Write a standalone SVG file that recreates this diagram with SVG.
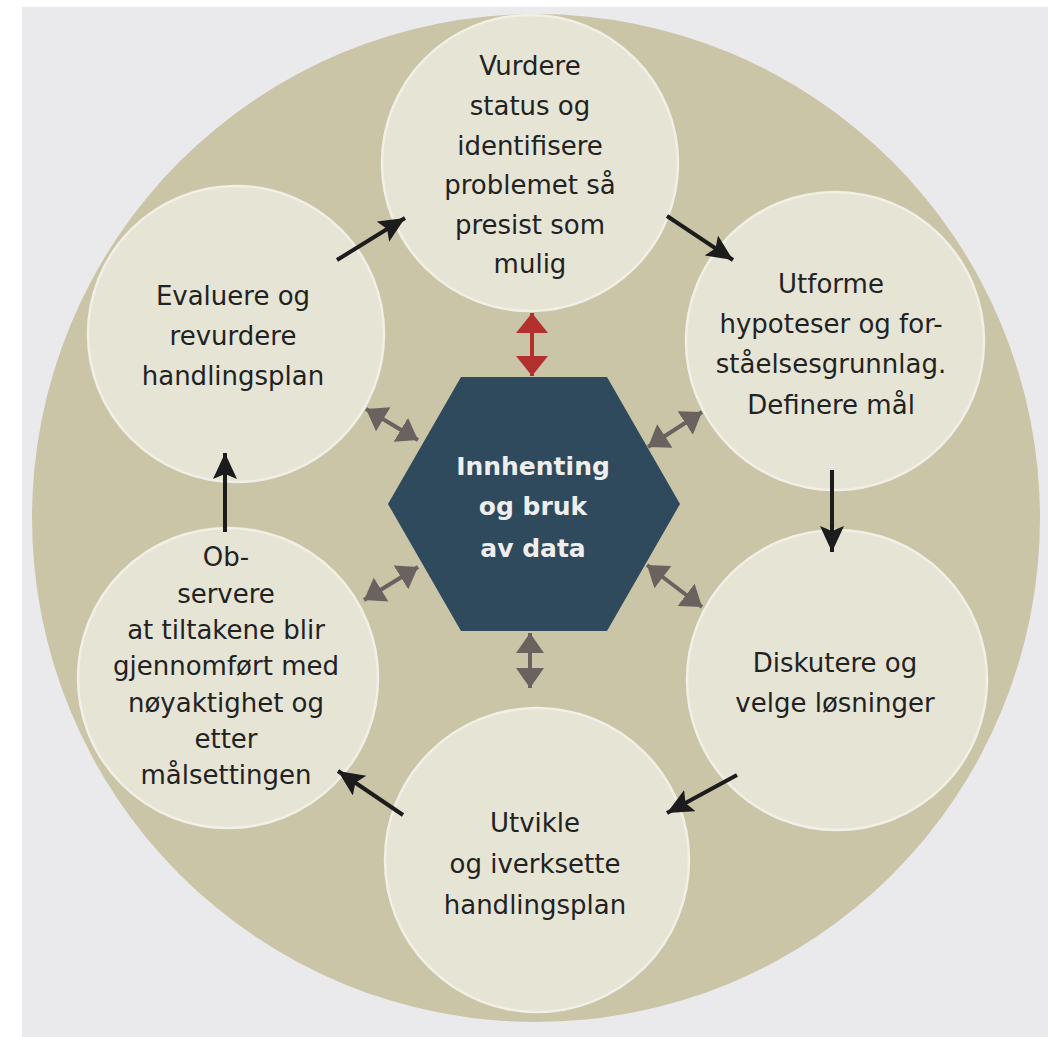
<svg xmlns="http://www.w3.org/2000/svg" width="1048" height="1037" viewBox="0 0 1048 1037">
  <style>
    .node { fill: #e6e4d5; stroke: #f1efe6; stroke-width: 2.5; }
    .lbl { font-family: "DejaVu Sans", "Liberation Sans", sans-serif; font-size: 26px; fill: #222222; text-anchor: middle; }
    .hexlbl { font-family: "DejaVu Sans", "Liberation Sans", sans-serif; font-size: 25px; font-weight: bold; fill: #eeeeee; text-anchor: middle; }
    .flow { stroke: #1c1c1c; stroke-width: 4; fill: none; marker-end: url(#blackHead); }
    .data { stroke: #6a625f; stroke-width: 4; fill: none; marker-start: url(#grayStart); marker-end: url(#grayEnd); }
    .datared { stroke: #b3302e; stroke-width: 4; fill: none; marker-start: url(#redStart); marker-end: url(#redEnd); }
  </style>
  <defs>
    <marker id="blackHead" markerUnits="userSpaceOnUse" markerWidth="28" markerHeight="26" refX="26" refY="12" orient="auto">
      <path d="M0,0 L26,12 L0,24 L5,12 Z" fill="#1c1c1c"/>
    </marker>
    <marker id="grayEnd" markerUnits="userSpaceOnUse" markerWidth="22" markerHeight="30" refX="20" refY="14" orient="auto">
      <path d="M0,0 L20,14 L0,28 Z" fill="#6a625f"/>
    </marker>
    <marker id="grayStart" markerUnits="userSpaceOnUse" markerWidth="22" markerHeight="30" refX="0" refY="14" orient="auto">
      <path d="M20,0 L0,14 L20,28 Z" fill="#6a625f"/>
    </marker>
    <marker id="redEnd" markerUnits="userSpaceOnUse" markerWidth="22" markerHeight="34" refX="20" refY="16" orient="auto">
      <path d="M0,0 L20,16 L0,32 Z" fill="#b3302e"/>
    </marker>
    <marker id="redStart" markerUnits="userSpaceOnUse" markerWidth="22" markerHeight="34" refX="0" refY="16" orient="auto">
      <path d="M20,0 L0,16 L20,32 Z" fill="#b3302e"/>
    </marker>
  </defs>

  <rect x="0" y="0" width="1048" height="1037" fill="#ffffff"/>
  <rect x="22" y="7" width="1026" height="1030" fill="#eaeaed"/>
  <circle id="ring" cx="536" cy="518" r="504" fill="#cac5a7"/>

  <g id="node-vurdere">
    <circle class="node" cx="530" cy="163" r="148"/>
    <text class="lbl" x="530" y="75">Vurdere</text>
    <text class="lbl" x="530" y="115">status og</text>
    <text class="lbl" x="530" y="155">identifisere</text>
    <text class="lbl" x="530" y="194">problemet så</text>
    <text class="lbl" x="530" y="234">presist som</text>
    <text class="lbl" x="530" y="273">mulig</text>
  </g>

  <g id="node-utforme">
    <circle class="node" cx="835" cy="341" r="149"/>
    <text class="lbl" x="831" y="293">Utforme</text>
    <text class="lbl" x="831" y="333">hypoteser og for-</text>
    <text class="lbl" x="831" y="373">ståelsesgrunnlag.</text>
    <text class="lbl" x="831" y="414">Definere mål</text>
  </g>

  <g id="node-diskutere">
    <circle class="node" cx="837" cy="680" r="150"/>
    <text class="lbl" x="835" y="672">Diskutere og</text>
    <text class="lbl" x="835" y="712">velge løsninger</text>
  </g>

  <g id="node-utvikle">
    <circle class="node" cx="537" cy="860" r="152"/>
    <text class="lbl" x="535" y="832">Utvikle</text>
    <text class="lbl" x="535" y="873">og iverksette</text>
    <text class="lbl" x="535" y="914">handlingsplan</text>
  </g>

  <g id="node-observere">
    <circle class="node" cx="228" cy="678" r="150"/>
    <text class="lbl" x="226" y="566">Ob-</text>
    <text class="lbl" x="226" y="603">servere</text>
    <text class="lbl" x="226" y="639">at tiltakene blir</text>
    <text class="lbl" x="226" y="675">gjennomført med</text>
    <text class="lbl" x="226" y="712">nøyaktighet og</text>
    <text class="lbl" x="226" y="748">etter</text>
    <text class="lbl" x="226" y="784">målsettingen</text>
  </g>

  <g id="node-evaluere">
    <circle class="node" cx="236" cy="334" r="148"/>
    <text class="lbl" x="233" y="305">Evaluere og</text>
    <text class="lbl" x="233" y="345">revurdere</text>
    <text class="lbl" x="233" y="385">handlingsplan</text>
  </g>

  <g id="node-data">
    <polygon points="461,377 607,377 680,504 607,631 461,631 388,504" fill="#2f4a5c"/>
    <text class="hexlbl" x="533" y="475">Innhenting</text>
    <text class="hexlbl" x="533" y="515">og bruk</text>
    <text class="hexlbl" x="533" y="557">av data</text>
  </g>

  <g id="connectors">
    <line class="flow" x1="337" y1="260" x2="405" y2="218"/>
    <line class="flow" x1="667" y1="216" x2="733" y2="260"/>
    <line class="flow" x1="832" y1="470" x2="832" y2="552"/>
    <line class="flow" x1="737" y1="775" x2="667" y2="813"/>
    <line class="flow" x1="403" y1="815" x2="338" y2="771"/>
    <line class="flow" x1="225" y1="532" x2="225" y2="453"/>

    <line class="datared" x1="532" y1="313" x2="532" y2="376"/>
    <line class="data" x1="530" y1="633" x2="530" y2="688"/>
    <line class="data" x1="366" y1="409" x2="418" y2="440"/>
    <line class="data" x1="648" y1="447" x2="702" y2="412"/>
    <line class="data" x1="364" y1="600" x2="418" y2="567"/>
    <line class="data" x1="647" y1="565" x2="702" y2="607"/>
  </g>
</svg>
